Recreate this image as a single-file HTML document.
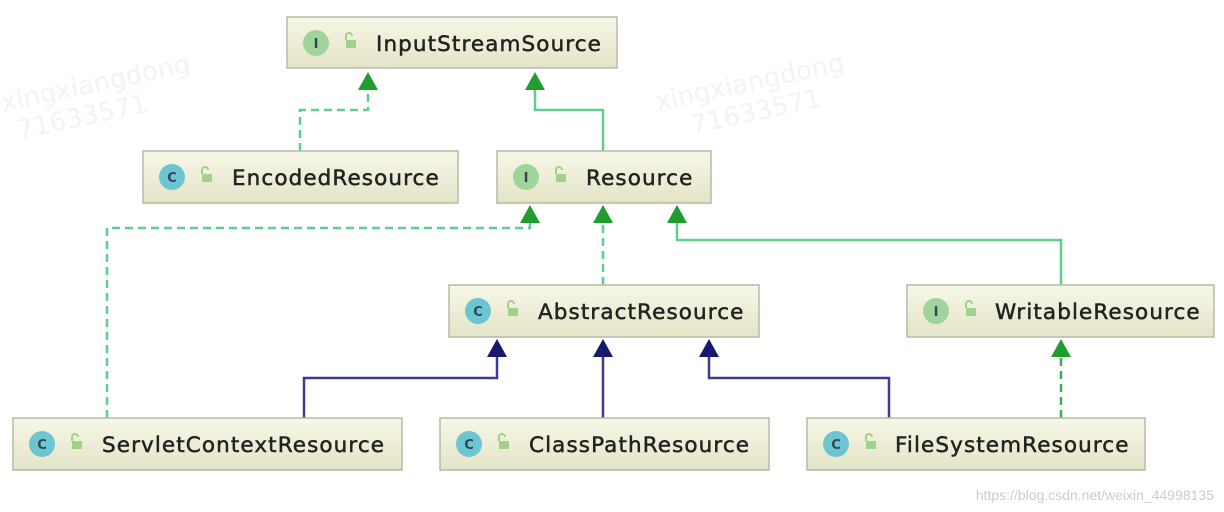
<!DOCTYPE html>
<html><head><meta charset="utf-8"><style>
html,body{margin:0;padding:0;background:#fff;width:1224px;height:512px;overflow:hidden}
</style></head><body>
<svg width="1224" height="512" viewBox="0 0 1224 512" xmlns="http://www.w3.org/2000/svg" font-family="'DejaVu Sans','Liberation Sans',sans-serif">
<defs>
<linearGradient id="g" x1="0" y1="0" x2="0" y2="1"><stop offset="0" stop-color="#f7f7e8"/><stop offset="1" stop-color="#e4e4c8"/></linearGradient>
</defs>
<g font-size="26" fill="#f3f3f3" transform="rotate(-12)">
<text x="-20" y="110">xingxiangdong</text><text x="-10" y="140">71633571</text>
<text x="620" y="245">xingxiangdong</text><text x="650" y="275">71633571</text>
</g>
<g fill="none" stroke-width="2.5">
<path d="M300 151V110H368V88" stroke="#5ecf8c" stroke-dasharray="8 5"/>
<path d="M603 151V110H535V88" stroke="#5ecf8c"/>
<path d="M107 418V228H530V222" stroke="#5ecf8c" stroke-dasharray="8 5"/>
<path d="M603 285V222" stroke="#5ecf8c" stroke-dasharray="8 5"/>
<path d="M1061 285V240H677V222" stroke="#5ecf8c"/>
<path d="M1061 418V356" stroke="#3cae5c" stroke-dasharray="8 5"/>
<path d="M304 418V378H497V356" stroke="#3b3b8f"/>
<path d="M603 418V356" stroke="#3b3b8f"/>
<path d="M889 418V378H709V356" stroke="#3b3b8f"/>
</g>
<g fill="#1f9e2f">
<path d="M368 72l-10 18h20z"/><path d="M535 72l-10 18h20z"/>
<path d="M530 205l-10 18h20z"/><path d="M603 205l-10 18h20z"/><path d="M677 205l-10 18h20z"/>
<path d="M1061 339l-10 18h20z"/>
</g>
<g fill="#18186e">
<path d="M497 339l-10 18h20z"/><path d="M603 339l-10 18h20z"/><path d="M709 339l-10 18h20z"/>
</g>
<g stroke="#b8b8a8" stroke-width="1.5" fill="url(#g)">
<rect x="287" y="17" width="330" height="51"/>
<rect x="143" y="151" width="315" height="52"/>
<rect x="497" y="151" width="214" height="52"/>
<rect x="449" y="285" width="310" height="52"/>
<rect x="907" y="285" width="307" height="52"/>
<rect x="13" y="418" width="389" height="52"/>
<rect x="440" y="418" width="329" height="52"/>
<rect x="807" y="418" width="338" height="52"/>
</g>
<g>
<circle cx="316" cy="43" r="13" fill="#9fd59c"/><circle cx="172" cy="177" r="13" fill="#6cc6d2"/>
<circle cx="526" cy="177" r="13" fill="#9fd59c"/><circle cx="478" cy="311" r="13" fill="#6cc6d2"/>
<circle cx="936" cy="311" r="13" fill="#9fd59c"/><circle cx="42" cy="444" r="13" fill="#6cc6d2"/>
<circle cx="469" cy="444" r="13" fill="#6cc6d2"/><circle cx="836" cy="444" r="13" fill="#6cc6d2"/>
</g>
<g font-size="13" font-weight="bold" text-anchor="middle" fill="#345">
<text x="316" y="48">I</text><text x="172" y="182">C</text><text x="526" y="182">I</text><text x="478" y="316">C</text>
<text x="936" y="316">I</text><text x="42" y="449">C</text><text x="469" y="449">C</text><text x="836" y="449">C</text>
</g>
<g fill="#9fd38a">
<rect x="346" y="40" width="10" height="8"/><rect x="202" y="174" width="10" height="8"/>
<rect x="556" y="174" width="10" height="8"/><rect x="508" y="308" width="10" height="8"/>
<rect x="966" y="308" width="10" height="8"/><rect x="72" y="441" width="10" height="8"/>
<rect x="499" y="441" width="10" height="8"/><rect x="866" y="441" width="10" height="8"/>
</g>
<g fill="none" stroke="#9fd38a" stroke-width="2">
<path d="M346 40v-4a3 3 0 0 1 6 0"/><path d="M202 174v-4a3 3 0 0 1 6 0"/>
<path d="M556 174v-4a3 3 0 0 1 6 0"/><path d="M508 308v-4a3 3 0 0 1 6 0"/>
<path d="M966 308v-4a3 3 0 0 1 6 0"/><path d="M72 441v-4a3 3 0 0 1 6 0"/>
<path d="M499 441v-4a3 3 0 0 1 6 0"/><path d="M866 441v-4a3 3 0 0 1 6 0"/>
</g>
<g font-size="21.5" fill="#222" letter-spacing="1.1" stroke="#222" stroke-width="0.5">
<text x="376" y="51">InputStreamSource</text>
<text x="232" y="185">EncodedResource</text>
<text x="586" y="185">Resource</text>
<text x="538" y="319">AbstractResource</text>
<text x="995" y="319">WritableResource</text>
<text x="102" y="452">ServletContextResource</text>
<text x="529" y="452">ClassPathResource</text>
<text x="895" y="452">FileSystemResource</text>
</g>
<text x="1214" y="500" font-size="14" fill="#ccc" text-anchor="end" font-family="'Liberation Sans',sans-serif">https://blog.csdn.net/weixin_44998135</text>
</svg>
</body></html>
